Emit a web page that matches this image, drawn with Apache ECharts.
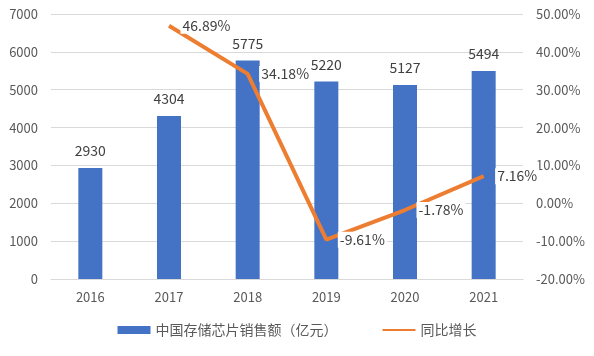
<!DOCTYPE html>
<html><head><meta charset="utf-8">
<script src="https://cdn.jsdelivr.net/npm/echarts@6/dist/echarts.min.js"></script>
<style>html,body{margin:0;padding:0;background:#fff}#c{width:594px;height:356px}</style>
</head><body><div id="c"></div>
<script>
const years = ['2016','2017','2018','2019','2020','2021'];
const sales = [2930, 4304, 5775, 5220, 5127, 5494];
const growth = [null, 46.89, 34.18, -9.61, -1.78, 7.16];
const barName = '中国存储芯片销售额（亿元）';
const lineName = '同比增长';
const font = '"Noto Sans CJK SC","Noto Sans",sans-serif';
const chart = echarts.init(document.getElementById('c'));
chart.setOption({
  animation: false,
  textStyle: {fontFamily: font},
  grid: {left: 51, right: 71, top: 14, bottom: 77},
  legend: {
    bottom: 14, left: 'center', itemGap: 44,
    textStyle: {color: '#595959', fontSize: 14, fontFamily: font},
    data: [
      {name: barName, icon: 'rect', itemStyle: {color: '#4472C4'}},
      {name: lineName}
    ],
    itemWidth: 33, itemHeight: 8
  },
  xAxis: {
    type: 'category', data: years,
    axisLine: {lineStyle: {color: '#d9d9d9'}},
    axisTick: {show: false},
    axisLabel: {color: '#595959', fontSize: 13, margin: 12}
  },
  yAxis: [
    {type: 'value', min: 0, max: 7000, interval: 1000,
     axisLine: {show: false}, axisTick: {show: false},
     splitLine: {lineStyle: {color: '#d9d9d9'}},
     axisLabel: {color: '#595959', fontSize: 13, margin: 13, formatter: v => String(v)}},
    {type: 'value', min: -20, max: 50, interval: 10,
     axisLine: {show: false}, axisTick: {show: false},
     splitLine: {show: false},
     axisLabel: {color: '#595959', fontSize: 13, margin: 13,
       formatter: v => v.toFixed(2) + '%'}}
  ],
  series: [
    {name: barName, type: 'bar', data: sales, barWidth: 24,
     itemStyle: {color: '#4472C4'},
     label: {show: true, position: 'top', distance: 10, color: '#404040', fontSize: 14}},
    {name: lineName, type: 'line', yAxisIndex: 1, data: growth,
     showSymbol: true, symbol: 'circle', symbolSize: 1,
     lineStyle: {color: '#ED7D31', width: 4}, itemStyle: {color: 'rgba(237,125,49,0)'},
     label: {show: true, position: 'right', distance: 11, color: '#404040', fontSize: 14,
       backgroundColor: '#ffffff', padding: [1, 2],
       formatter: p => p.value == null ? '' : p.value.toFixed(2) + '%'}}
  ]
});
</script></body></html>
